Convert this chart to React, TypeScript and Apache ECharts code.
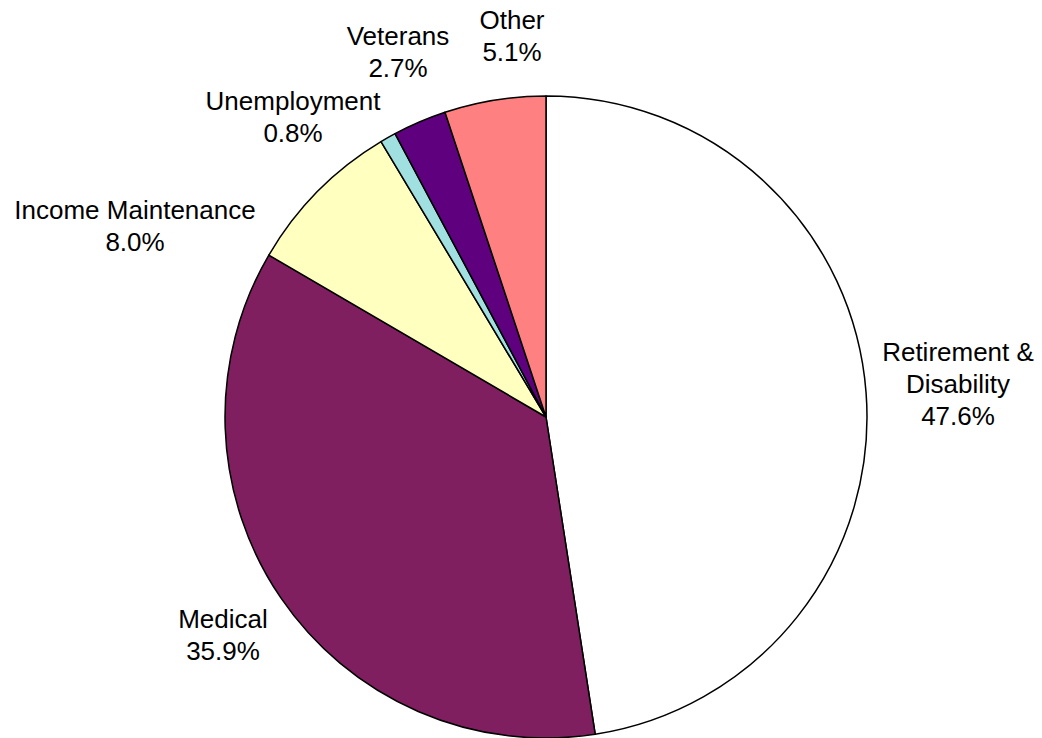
import React, { useEffect, useRef } from "react";
import * as echarts from "echarts";

const categories = [
  "Retirement & Disability",
  "Medical",
  "Income Maintenance",
  "Unemployment",
  "Veterans",
  "Other",
];
const shares = [47.6, 35.9, 8.0, 0.8, 2.7, 5.1];
const colors = ["#FFFFFF", "#7F1F5F", "#FFFFC0", "#A0E0E0", "#5F007F", "#FF8080"];

// label centre positions (layout only)
const labelPos: [number, number][] = [
  [958, 384],
  [223, 635],
  [135, 226],
  [293, 117],
  [398, 52],
  [512, 36],
];

export default function App() {
  const ref = useRef<HTMLDivElement>(null);
  useEffect(() => {
    if (!ref.current) return;
    const chart = echarts.init(ref.current, undefined, { renderer: "svg" });
    chart.setOption({
      animation: false,
      backgroundColor: "#FFFFFF",
      series: [
        {
          type: "pie",
          center: [546, 417],
          radius: 321,
          startAngle: 90,
          clockwise: true,
          avoidLabelOverlap: false,
          data: categories.map((c, i) => ({
            name: c,
            value: shares[i],
            itemStyle: { color: colors[i] },
          })),
          itemStyle: { borderColor: "#000000", borderWidth: 1.5 },
          emphasis: { disabled: true },
          label: {
            show: true,
            position: "outside",
            formatter: (p: any) =>
              p.name.replace(" & ", " &\n") + "\n" + Number(p.value).toFixed(1) + "%",
            fontFamily: "Liberation Sans, Arial, sans-serif",
            fontSize: 26,
            lineHeight: 32,
            color: "#000000",
            align: "center",
          },
          labelLine: { show: false },
          labelLayout: (params: any) => {
            const pos = labelPos[params.dataIndex];
            return {
              x: pos[0],
              y: pos[1],
              align: "center",
              verticalAlign: "middle",
            };
          },
        },
      ],
    });
    return () => chart.dispose();
  }, []);
  return (
    <div
      ref={ref}
      style={{ position: "absolute", left: 0, top: 0, width: 1042, height: 738 }}
    />
  );
}
